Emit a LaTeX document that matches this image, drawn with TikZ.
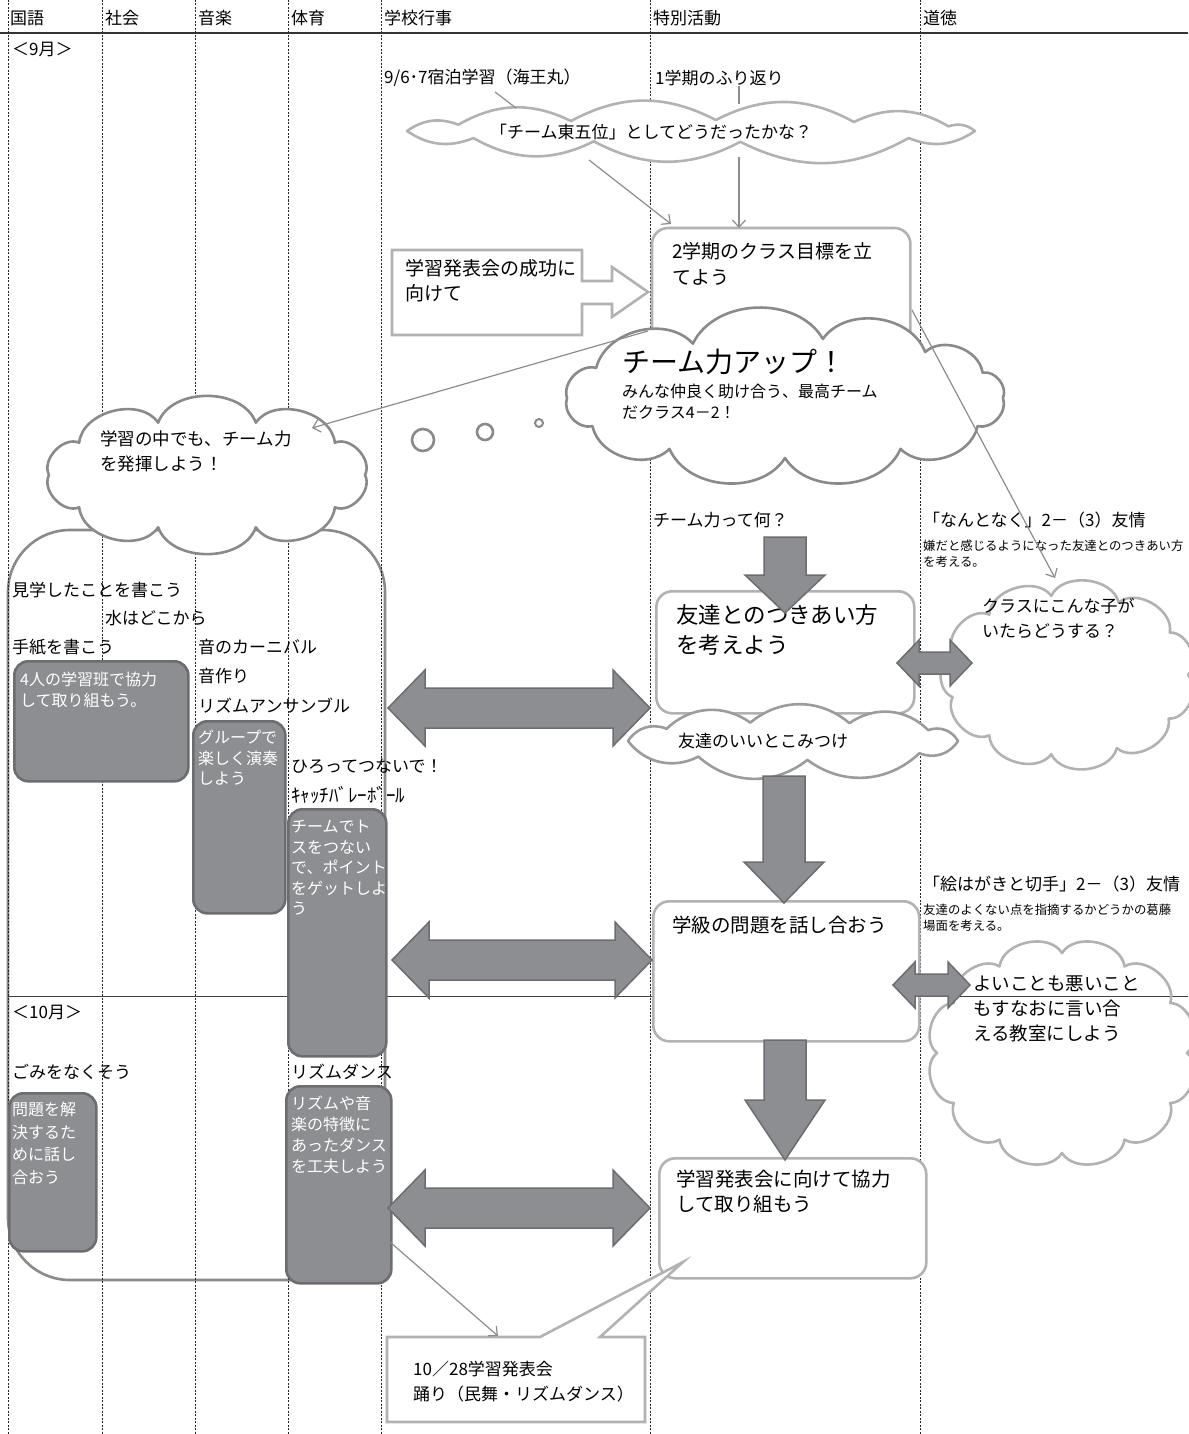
\documentclass[tikz,border=0pt]{standalone}
\usepackage{fontspec}
\setmainfont{Noto Sans CJK JP}
\usetikzlibrary{arrows.meta}

\definecolor{boxfill}{HTML}{8D8E91}
\definecolor{boxedge}{HTML}{6C6D70}
\definecolor{lightedge}{HTML}{B2B2B2}
\definecolor{softedge}{HTML}{9C9C9C}
\definecolor{midedge}{HTML}{8A8A8A}
\definecolor{linegray}{HTML}{8C8C8C}

\newcommand{\fsz}[2]{\fontsize{#1}{#2}\selectfont}

% block arrow pointing down: x centre, y top, y where the head starts, y tip
\newcommand{\downblock}[4]{%
	\draw[blockarrow] (#1 - 21, #2) -- (#1 + 21, #2) -- (#1 + 21, #3) -- (#1 + 40, #3) -- (#1, #4) -- (#1 - 40, #3) -- (#1 - 21, #3) -- cycle;}

% block arrow with two heads: x left, x right, y centre, half head, half shaft, head length
\newcommand{\twinblock}[6]{%
	\draw[blockarrow] (#1, #3) -- (#1 + #6, #3 - #4) -- (#1 + #6, #3 - #5) -- (#2 - #6, #3 - #5) -- (#2 - #6, #3 - #4) -- (#2, #3) -- (#2 - #6, #3 + #4) -- (#2 - #6, #3 + #5) -- (#1 + #6, #3 + #5) -- (#1 + #6, #3 + #4) -- cycle;}

% cloud: style, x centre, y centre, x radius, y radius, angles of the puff ends (last one 360)
\newcommand{\cloudat}[6]{%
	\draw[#1] ({#2 + #4}, #3) \foreach \ang in {#6} { to ({#2 + #4 * cos(\ang)}, {#3 + #5 * sin(\ang)}) } -- cycle;}

\tikzset{
	txt/.style = {anchor = west, inner sep = 0pt, font = \fsz{17}{24}},
	blk/.style = {anchor = north west, inner sep = 0pt, align = left, font = \fsz{17}{25}},
	wtxt/.style = {blk, text = white, font = \fsz{16}{20.5}},
	column/.style = {black!85, line width = 0.7pt, dash pattern = on 2pt off 1.5pt},
	lightbox/.style = {draw = lightedge, fill = white, line width = 2.6pt, rounded corners = 16pt, anchor = north west, inner sep = 0pt},
	darkbox/.style = {draw = boxedge, fill = boxfill, line width = 2.6pt, rounded corners = 14pt, anchor = north west, inner sep = 0pt},
	puff/.style = {draw = midedge, fill = white, line width = 2.6pt, line join = round, every to/.style = {bend left = #1}},
	puff/.default = 65,
	thin/.style = {linegray, line width = 1.2pt},
	thinarrow/.style = {thin, -{Straight Barb[length = 7pt, width = 13pt]}},
	blockarrow/.style = {draw = boxedge, fill = boxfill, line width = 1.5pt},
}

\begin{document}
\begin{tikzpicture}[x = 1pt, y = -1pt]
	\useasboundingbox (0, 0) rectangle (1188, 1434);

	% frame round the four subjects
	\draw[midedge, line width = 2.6pt, rounded corners = 62pt] (8, 1280) -- (8, 530) -- (385, 530) -- (385, 1280) -- cycle;

	\foreach \xc in {8, 102, 195, 288, 381, 650, 920}
		\draw[column] (\xc, 0) -- (\xc, 1434);
	\draw[black!80, line width = 1.6pt] (0, 33) -- (1188, 33);
	\draw[black!75, line width = 1pt] (8, 996) -- (1188, 996);

	\foreach \xc/\subj/\nm in {10/国語/hdJapanese, 105/社会/hdSocial, 198/音楽/hdMusic, 291/体育/hdSport, 384/学校行事/hdEvents, 653/特別活動/hdSpecial, 923/道徳/hdMoral}
		\node[txt] (\nm) at (\xc, 18) {\subj};

	\node[txt] (monthSep) at (12, 50) {＜9月＞};
	\node[txt] (monthOct) at (12, 1012) {＜10月＞};

	% looking back
	\node[txt] (lblTrip) at (384, 78) {9/6･7宿泊学習（海王丸）};
	\node[txt] (lblReview) at (655, 78) {1学期のふり返り};
	\cloudat{puff = 28, draw = lightedge}{691}{131}{284}{11}{40, 80, 110, 140, 180, 215, 245, 275, 305, 335, 360}
	\node[txt] (txtReview) at (490, 132) {「チーム東五位」としてどうだったかな？};
	\coordinate (tripTail) at (495, 92);
	\coordinate (tripHead) at (516, 108);
	\coordinate (reviewHead) at (739, 104);
	\draw[thin] (tripTail) -- (tripHead);
	\draw[thin] (lblReview.south -| reviewHead) -- (reviewHead);

	% goal box, its foot lies under the slogan cloud
	\node[fill = white, minimum width = 258, minimum height = 122, anchor = north west, inner sep = 0pt] (boxGoal) at (652, 228) {};
	\draw[lightedge, line width = 2.6pt, rounded corners = 16pt] (boxGoal.south west) -- (boxGoal.north west) -- (boxGoal.north east) -- (boxGoal.south east);
	\node[blk, font = \fsz{19}{26}] (txtGoal) at (672, 242) {2学期のクラス目標を立\\てよう};
	\coordinate (reviewFoot) at (589, 160);
	\coordinate (reviewBase) at (739, 157);
	\coordinate (goalTop) at (671, 224);
	\draw[thinarrow] (reviewFoot) -- (goalTop);
	\draw[thinarrow] (reviewBase) -- (boxGoal.north -| reviewBase);

	\draw[lightedge, fill = white, line width = 2.6pt] (392, 250) -- (582, 250) -- (582, 281) -- (612, 281) -- (612, 267) -- (648, 292) -- (612, 317) -- (612, 304) -- (582, 304) -- (582, 335) -- (392, 335) -- cycle;
	\node[blk, font = \fsz{19}{25}] (txtAim) at (405, 259) {学習発表会の成功に\\向けて};

	% class slogan
	\cloudat{puff = 62}{785}{398}{218}{60}{28, 58, 90, 122, 152, 180, 210, 245, 280, 310, 335, 360}
	\node[txt, font = \fsz{28}{30}] (txtTeamUp) at (622, 362) {チーム力アップ！};
	\node[blk, font = \fsz{16}{21}] (txtTeam) at (622, 384) {みんな仲良く助け合う、最高チーム\\だクラス4－2！};
	\node[circle, draw = midedge, line width = 2.6pt, minimum size = 22, inner sep = 0pt] (bubbleBig) at (423, 440) {};
	\node[circle, draw = midedge, line width = 2.6pt, minimum size = 16, inner sep = 0pt] (bubbleMid) at (485, 432) {};
	\node[circle, draw = midedge, line width = 2pt, minimum size = 8, inner sep = 0pt] (bubbleSmall) at (539, 423) {};

	\cloudat{puff = 70}{207}{475}{158}{55}{36, 72, 108, 144, 180, 216, 252, 288, 324, 360}
	\node[blk, font = \fsz{17.5}{25}] (txtStudy) at (100, 431) {学習の中でも、チーム力\\を発揮しよう！};
	\coordinate (goalCorner) at (648, 331);
	\coordinate (studyHead) at (312, 428);
	\draw[thinarrow] (goalCorner) -- (studyHead);

	% friends
	\node[txt] (lblWhat) at (653, 520) {チーム力って何？};
	\node[lightbox, minimum width = 258, minimum height = 122] (boxFriend) at (655, 590) {};
	\node[blk, font = \fsz{22.5}{30}] (txtFriend) at (676, 604) {友達とのつきあい方\\を考えよう};
	\downblock{785}{537}{575}{613}
	\cloudat{puff = 40, draw = softedge}{793}{741}{165}{19}{40, 85, 125, 180, 220, 255, 290, 325, 360}
	\node[txt] (txtGood) at (678, 741) {友達のいいとこみつけ};
	\twinblock{388}{650}{708}{38}{20}{37}

	\node[txt] (lblNantonaku) at (923, 520) {「なんとなく」2－（3）友情};
	\node[blk, font = \fsz{12.4}{15.5}] (txtNantonaku) at (923, 540) {嫌だと感じるようになった友達とのつきあい方\\を考える。};
	\cloudat{puff = 70, draw = lightedge, fill = none}{1068}{675}{120}{80}{33, 66, 98, 131, 164, 196, 229, 262, 295, 328, 360}
	\node[blk] (txtKurasu) at (982, 598) {クラスにこんな子が\\いたらどうする？};
	\coordinate (goalSide) at (912, 310);
	\coordinate (kurasuHead) at (1055, 578);
	\draw[thinarrow] (goalSide) -- (kurasuHead);
	\twinblock{897}{972}{663}{23}{11}{22}

	% subjects in September
	\node[txt] (lblKengaku) at (12, 590) {見学したことを書こう};
	\node[txt] (lblMizu) at (105, 618) {水はどこから};
	\node[txt] (lblTegami) at (12, 647) {手紙を書こう};
	\node[txt] (lblCarnival) at (198, 647) {音のカーニバル};
	\node[txt] (lblOtozukuri) at (198, 676) {音作り};
	\node[txt] (lblEnsemble) at (198, 706) {リズムアンサンブル};
	\node[txt] (lblHirotte) at (291, 766) {ひろってつないで！};
	\node[txt, font = \fsz{19}{20}] (lblCatch) at (291, 795) {ｷｬｯﾁﾊﾞﾚｰﾎﾞｰﾙ};

	\node[darkbox, minimum width = 174, minimum height = 120] (boxHan) at (13, 660) {};
	\node[wtxt] (txtHan) at (20, 672) {4人の学習班で協力\\して取り組もう。};
	\node[darkbox, minimum width = 92, minimum height = 192] (boxEnsou) at (192, 720) {};
	\node[wtxt] (txtEnsou) at (198, 730) {グループで\\楽しく演奏\\しよう};
	\node[darkbox, minimum width = 98, minimum height = 247] (boxToss) at (287, 808) {};
	\node[wtxt] (txtToss) at (291, 820) {チームでト\\スをつない\\で、ポイント\\をゲットしよ\\う};

	% class problems
	\node[lightbox, minimum width = 266, minimum height = 140] (boxClass) at (652, 900) {};
	\node[txt, font = \fsz{19.5}{26}] (txtClass) at (672, 925) {学級の問題を話し合おう};
	\downblock{784}{776}{862}{903}
	\twinblock{392}{652}{960}{38}{20}{37}

	\node[txt] (lblEhagaki) at (923, 884) {「絵はがきと切手」2－（3）友情};
	\node[blk, font = \fsz{12.4}{15.5}] (txtEhagaki) at (923, 904) {友達のよくない点を指摘するかどうかの葛藤\\場面を考える。};
	\cloudat{puff = 70, draw = lightedge, fill = none}{1062}{1053}{125}{100}{30, 60, 90, 120, 150, 180, 210, 240, 270, 300, 330, 360}
	\node[blk, font = \fsz{18.5}{25}] (txtSunao) at (973, 976) {よいことも悪いこと\\もすなおに言い合\\える教室にしよう};
	\twinblock{893}{970}{985}{23}{11}{22}

	% October
	\node[txt] (lblGomi) at (12, 1072) {ごみをなくそう};
	\node[txt] (lblDance) at (291, 1072) {リズムダンス};
	\node[darkbox, minimum width = 87, minimum height = 158] (boxGomi) at (8, 1092) {};
	\node[wtxt, font = \fsz{16}{22.5}] (txtGomi) at (12, 1102) {問題を解\\決するた\\めに話し\\合おう};
	\node[darkbox, minimum width = 105, minimum height = 197] (boxDance) at (285, 1085) {};
	\node[wtxt, font = \fsz{16}{21}] (txtDance) at (291, 1096) {リズムや音\\楽の特徴に\\あったダンス\\を工夫しよう};

	\node[lightbox, minimum width = 267, minimum height = 120] (boxPresent) at (658, 1157) {};
	\node[blk, font = \fsz{19.5}{25}] (txtPresent) at (676, 1170) {学習発表会に向けて協力\\して取り組もう};
	\downblock{785}{1040}{1100}{1160}
	\twinblock{388}{650}{1208}{38}{20}{37}

	\draw[lightedge, fill = white, line width = 2.6pt] (387, 1337) -- (540, 1337) -- (683, 1262) -- (600, 1337) -- (645, 1337) -- (645, 1422) -- (387, 1422) -- cycle;
	\node[blk] (txtShow) at (413, 1361) {10／28学習発表会\\踊り（民舞・リズムダンス）};
	\coordinate (danceFoot) at (390, 1242);
	\coordinate (showHead) at (498, 1336);
	\draw[thinarrow] (danceFoot) -- (showHead);
\end{tikzpicture}
\end{document}
